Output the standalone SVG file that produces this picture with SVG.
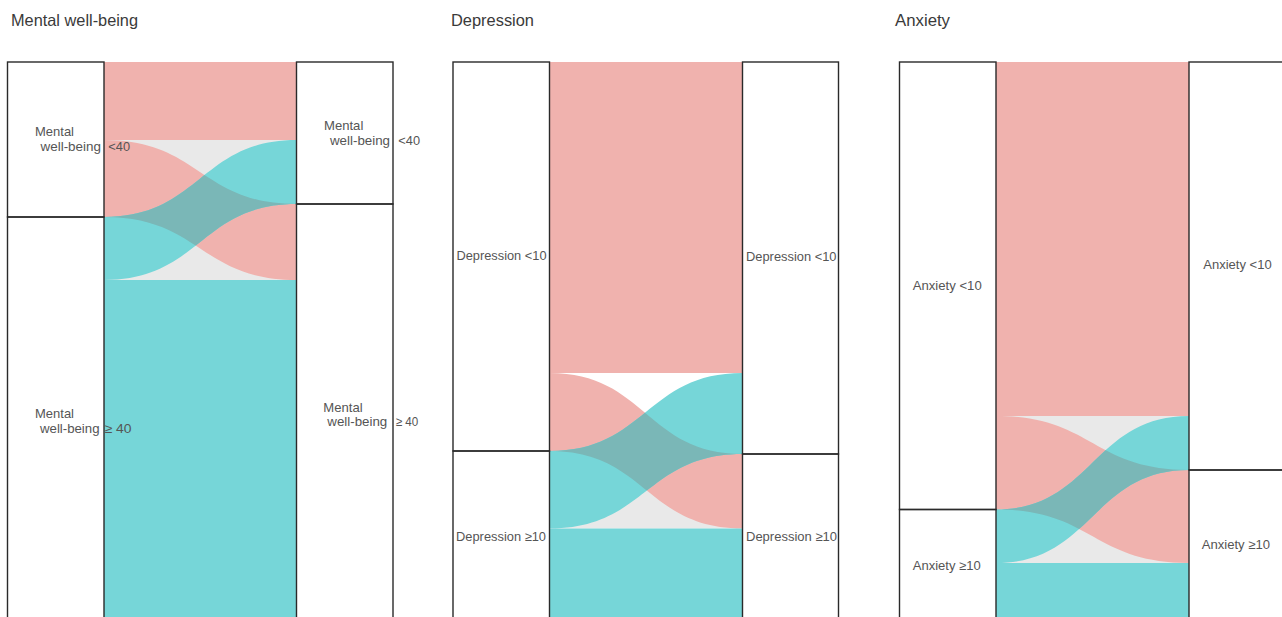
<svg xmlns="http://www.w3.org/2000/svg" width="1282" height="617" viewBox="0 0 1282 617">
<style>
.title{font-family:"Liberation Sans",Arial,sans-serif;font-size:16.5px;fill:#3a3a3a}
.lbl{font-family:"Liberation Sans",Arial,sans-serif;font-size:13px;fill:#555}
.box{fill:none;stroke:#2a2a2a;stroke-width:1.4}
.pink{fill:#f0b2ae}
.teal{fill:#76d6d8}
.ov{fill:#7ab7b7}
.gap{fill:#e9e9e9}
</style>
<defs>
<clipPath id="c1"><path d="M104 140 C200.25 140 200.25 204 296.5 204 L296.5 280 C200.25 280 200.25 217 104 217 Z"/></clipPath>
<clipPath id="c2"><path d="M549.5 373 C646 373 646 454 742.5 454 L742.5 528.5 C646 528.5 646 451 549.5 451 Z"/></clipPath>
<clipPath id="c3"><path d="M996 416 C1092.5 416 1092.5 470 1189 470 L1189 563 C1092.5 563 1092.5 509.5 996 509.5 Z"/></clipPath>
</defs>
<g id="titles">
<text class="title" x="11" y="26" textLength="127" lengthAdjust="spacingAndGlyphs">Mental well-being</text>
<text class="title" x="451" y="26" textLength="83" lengthAdjust="spacingAndGlyphs">Depression</text>
<text class="title" x="895" y="26" textLength="55" lengthAdjust="spacingAndGlyphs">Anxiety</text>
</g>
<g id="connectors">
<g id="flows-mwb">
<rect class="gap" x="104" y="140" width="192.5" height="140"/>
<rect class="pink" x="104" y="62" width="192.5" height="78"/>
<path class="pink" d="M104 140 C200.25 140 200.25 204 296.5 204 L296.5 280 C200.25 280 200.25 217 104 217 Z"/>
<path class="teal" d="M104 217 C200.25 217 200.25 140 296.5 140 L296.5 204 C200.25 204 200.25 280 104 280 Z"/>
<path class="ov" clip-path="url(#c1)" d="M104 217 C200.25 217 200.25 140 296.5 140 L296.5 204 C200.25 204 200.25 280 104 280 Z"/>
<rect class="teal" x="104" y="280" width="192.5" height="340"/>
</g>
<g id="flows-dep">
<rect class="gap" x="549.5" y="454" width="193" height="74.5"/>
<rect class="pink" x="549.5" y="62" width="193" height="311"/>
<path class="pink" d="M549.5 373 C646 373 646 454 742.5 454 L742.5 528.5 C646 528.5 646 451 549.5 451 Z"/>
<path class="teal" d="M549.5 451 C646 451 646 373 742.5 373 L742.5 454 C646 454 646 528.5 549.5 528.5 Z"/>
<path class="ov" clip-path="url(#c2)" d="M549.5 451 C646 451 646 373 742.5 373 L742.5 454 C646 454 646 528.5 549.5 528.5 Z"/>
<rect class="teal" x="549.5" y="528.5" width="193" height="92"/>
</g>
<g id="flows-anx">
<rect class="gap" x="996" y="416" width="193" height="147"/>
<rect class="pink" x="996" y="62" width="193" height="354"/>
<path class="pink" d="M996 416 C1092.5 416 1092.5 470 1189 470 L1189 563 C1092.5 563 1092.5 509.5 996 509.5 Z"/>
<path class="teal" d="M996 509.5 C1092.5 509.5 1092.5 416 1189 416 L1189 470 C1092.5 470 1092.5 563 996 563 Z"/>
<path class="ov" clip-path="url(#c3)" d="M996 509.5 C1092.5 509.5 1092.5 416 1189 416 L1189 470 C1092.5 470 1092.5 563 996 563 Z"/>
<rect class="teal" x="996" y="563" width="193" height="57"/>
</g>
</g>
<g id="mwb-left-lt40">
<rect class="box" x="7.5" y="62" width="96.5" height="155"/>
<text class="lbl" x="35" y="136" textLength="39" lengthAdjust="spacingAndGlyphs">Mental</text>
<text class="lbl" x="40.5" y="150.5" textLength="60.5" lengthAdjust="spacingAndGlyphs">well-being</text>
<text class="lbl" x="108.3" y="150.5" textLength="21.7" lengthAdjust="spacingAndGlyphs">&lt;40</text>
</g>
<g id="mwb-left-ge40">
<rect class="box" x="7.5" y="217" width="96.5" height="410"/>
<text class="lbl" x="35" y="418" textLength="39" lengthAdjust="spacingAndGlyphs">Mental</text>
<text class="lbl" x="40" y="432.5" textLength="59.5" lengthAdjust="spacingAndGlyphs">well-being</text>
<text class="lbl" x="104.5" y="432.5" textLength="27" lengthAdjust="spacingAndGlyphs">≥ 40</text>
</g>
<g id="mwb-right-lt40">
<rect class="box" x="296.5" y="62" width="96.5" height="142"/>
<text class="lbl" x="324" y="130" textLength="39.3" lengthAdjust="spacingAndGlyphs">Mental</text>
<text class="lbl" x="330" y="144.5" textLength="60" lengthAdjust="spacingAndGlyphs">well-being</text>
<text class="lbl" x="398.3" y="144.5" textLength="21.7" lengthAdjust="spacingAndGlyphs">&lt;40</text>
</g>
<g id="mwb-right-ge40">
<rect class="box" x="296.5" y="204" width="96.5" height="423"/>
<text class="lbl" x="323.3" y="411.5" textLength="39.3" lengthAdjust="spacingAndGlyphs">Mental</text>
<text class="lbl" x="327.3" y="426" textLength="60" lengthAdjust="spacingAndGlyphs">well-being</text>
<text class="lbl" x="395.7" y="426" textLength="22.6" lengthAdjust="spacingAndGlyphs">≥ 40</text>
</g>
<g id="dep-left-lt10">
<rect class="box" x="453" y="62" width="96.5" height="389"/>
<text class="lbl" x="456.5" y="259.5" textLength="90" lengthAdjust="spacingAndGlyphs">Depression &lt;10</text>
</g>
<g id="dep-left-ge10">
<rect class="box" x="453" y="451" width="96.5" height="176"/>
<text class="lbl" x="456" y="540.5" textLength="90" lengthAdjust="spacingAndGlyphs">Depression ≥10</text>
</g>
<g id="dep-right-lt10">
<rect class="box" x="742.5" y="62" width="96" height="392"/>
<text class="lbl" x="746" y="260.5" textLength="90.5" lengthAdjust="spacingAndGlyphs">Depression &lt;10</text>
</g>
<g id="dep-right-ge10">
<rect class="box" x="742.5" y="454" width="96" height="173"/>
<text class="lbl" x="746" y="541" textLength="91" lengthAdjust="spacingAndGlyphs">Depression ≥10</text>
</g>
<g id="anx-left-lt10">
<rect class="box" x="899.5" y="62" width="96.5" height="447.5"/>
<text class="lbl" x="912.7" y="289.5" textLength="69" lengthAdjust="spacingAndGlyphs">Anxiety &lt;10</text>
</g>
<g id="anx-left-ge10">
<rect class="box" x="899.5" y="509.5" width="96.5" height="117.5"/>
<text class="lbl" x="912.7" y="569.5" textLength="68" lengthAdjust="spacingAndGlyphs">Anxiety ≥10</text>
</g>
<g id="anx-right-lt10">
<rect class="box" x="1189" y="62" width="97" height="408"/>
<text class="lbl" x="1203.3" y="269" textLength="68.4" lengthAdjust="spacingAndGlyphs">Anxiety &lt;10</text>
</g>
<g id="anx-right-ge10">
<rect class="box" x="1189" y="470" width="97" height="157"/>
<text class="lbl" x="1201.7" y="549" textLength="68.3" lengthAdjust="spacingAndGlyphs">Anxiety ≥10</text>
</g>
</svg>
